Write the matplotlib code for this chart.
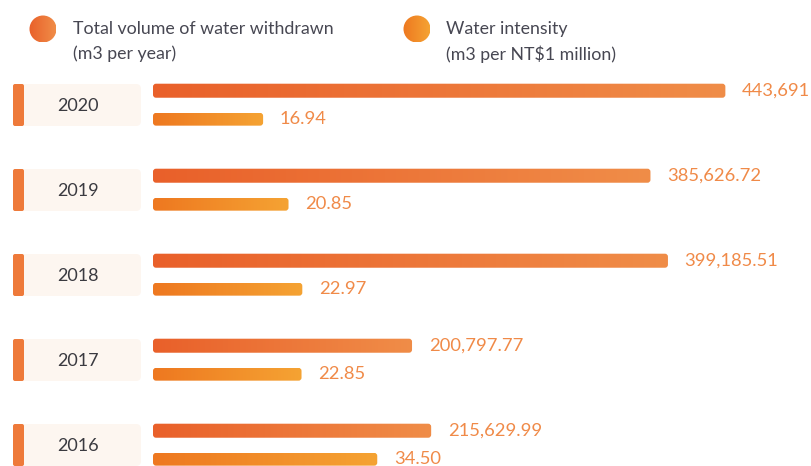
import numpy as np
import matplotlib
matplotlib.use("Agg")
import matplotlib.pyplot as plt
from matplotlib.patches import FancyBboxPatch, Circle
from matplotlib.colors import LinearSegmentedColormap

years = ["2020", "2019", "2018", "2017", "2016"]
volume = [443691, 385626.72, 399185.51, 200797.77, 215629.99]
volume_labels = ["443,691", "385,626.72", "399,185.51", "200,797.77", "215,629.99"]
intensity = [16.94, 20.85, 22.97, 22.85, 34.50]
intensity_labels = ["16.94", "20.85", "22.97", "22.85", "34.50"]
legend_titles = ["Total volume of water withdrawn", "Water intensity"]
legend_units = ["(m3 per year)", "(m3 per NT$1 million)"]

W, H = 812, 466
BAR_LEFT = 153
ROW0, ROW_STEP = 105, 85       # pixel centre of first row, row spacing
OFFSET = 0.168                 # bar offset from row centre (row units)
VOL_PX, INT_PX = 0.00129, 6.5  # pixels per data unit

vol_cmap = LinearSegmentedColormap.from_list("vol", ["#E9602A", "#F08D48"])
int_cmap = LinearSegmentedColormap.from_list("int", ["#EE7820", "#F5A333"])
VALUE_COLOR = "#F08A48"
TEXT_COLOR = "#474752"

plt.rcParams["font.family"] = ["Lato", "DejaVu Sans"]

fig = plt.figure(figsize=(W / 100, H / 100), dpi=100)

# bar axes: left edge at BAR_LEFT, top at half a row above the first row
top_px = ROW0 - ROW_STEP / 2
rect = [BAR_LEFT / W, 0, 1 - BAR_LEFT / W, 1 - top_px / H]
y_bottom = (H - ROW0) / ROW_STEP
ax_vol = fig.add_axes(rect)
ax_int = fig.add_axes(rect)
for ax, px in ((ax_vol, VOL_PX), (ax_int, INT_PX)):
    ax.set_xlim(0, (W - BAR_LEFT) / px)
    ax.set_ylim(y_bottom, -0.5)
    ax.axis("off")
    ax.patch.set_alpha(0)

# overlay in pixel coordinates for the decorations
deco = fig.add_axes([0, 0, 1, 1], zorder=-1)
deco.set_xlim(0, W)
deco.set_ylim(H, 0)
deco.axis("off")

grad = np.linspace(0, 1, 256).reshape(1, -1)


def gradient_bar(ax, y, width, height, cmap, radius_px):
    x_unit = ax.transData.transform((1, 0))[0] - ax.transData.transform((0, 0))[0]
    y_unit = abs(ax.transData.transform((0, 1))[1] - ax.transData.transform((0, 0))[1])
    r = radius_px / x_unit
    patch = FancyBboxPatch((0, y - height / 2), width, height,
                           boxstyle=f"round,pad=0,rounding_size={r}",
                           mutation_aspect=x_unit / y_unit,
                           facecolor="none", edgecolor="none")
    ax.add_patch(patch)
    im = ax.imshow(grad, cmap=cmap, aspect="auto",
                   extent=(0, width, y + height / 2, y - height / 2),
                   interpolation="bicubic")
    im.set_clip_path(patch)


for i in range(len(years)):
    gradient_bar(ax_vol, i - OFFSET, volume[i], 0.165, vol_cmap, 3)
    gradient_bar(ax_int, i + OFFSET, intensity[i], 0.15, int_cmap, 3)
    ax_vol.annotate(volume_labels[i], (volume[i], i - OFFSET), xytext=(12, 0),
                    textcoords="offset points", va="center", ha="left",
                    fontsize=13.2, color=VALUE_COLOR)
    ax_int.annotate(intensity_labels[i], (intensity[i], i + OFFSET), xytext=(12, 0),
                    textcoords="offset points", va="center", ha="left",
                    fontsize=13.2, color=VALUE_COLOR)
    # year label box with orange stripe
    yc = ROW0 + ROW_STEP * i
    box = FancyBboxPatch((13, yc - 21), 128, 42,
                         boxstyle="round,pad=0,rounding_size=5",
                         facecolor="#FDF6F0", edgecolor="none")
    deco.add_patch(box)
    stripe = FancyBboxPatch((13, yc - 21), 11, 42,
                            boxstyle="round,pad=0,rounding_size=2",
                            facecolor="#EE7A3A", edgecolor="none")
    deco.add_patch(stripe)
    deco.text(78, yc + 1, years[i], ha="center", va="center",
              fontsize=13, color="#3A3A40")

# legend
for (cx, tx), title, unit, cmap in zip(((43, 73), (417, 446)), legend_titles,
                                       legend_units, (vol_cmap, int_cmap)):
    circ = Circle((cx, 29), 13.5, facecolor="none", edgecolor="none")
    deco.add_patch(circ)
    im = deco.imshow(grad, cmap=cmap, aspect="auto",
                     extent=(cx - 13.5, cx + 13.5, 42.5, 15.5))
    im.set_clip_path(circ)
    deco.text(tx, 29, title, ha="left", va="center", fontsize=12.8,
              color=TEXT_COLOR)
    deco.text(tx, 54, unit, ha="left", va="center", fontsize=12.8,
              color=TEXT_COLOR)

deco.set_xlim(0, W)
deco.set_ylim(H, 0)

fig.savefig("out.png", dpi=100)
